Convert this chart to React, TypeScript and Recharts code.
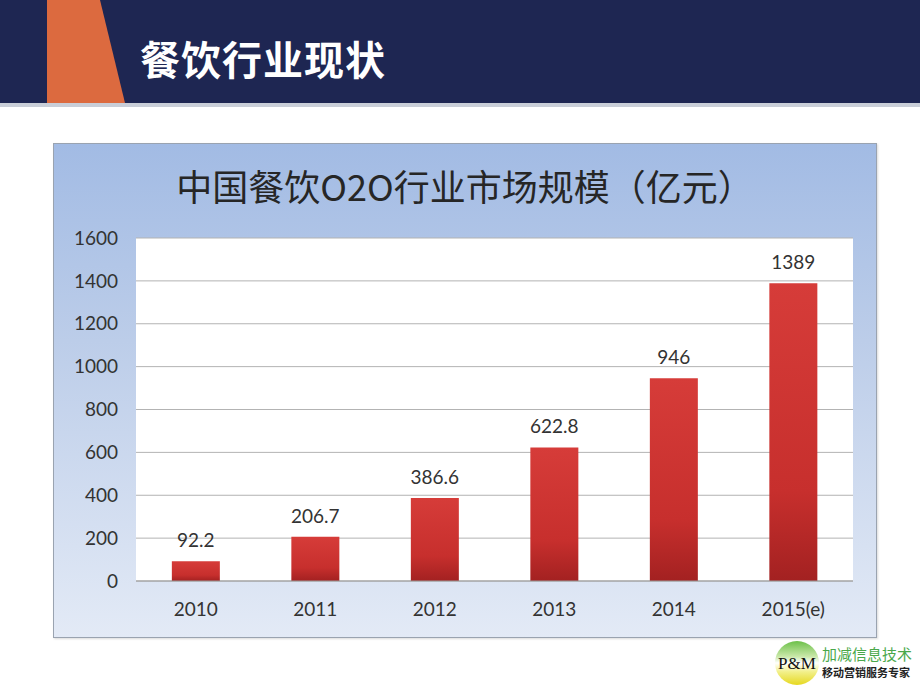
import { BarChart, Bar, XAxis, YAxis, CartesianGrid, LabelList } from 'recharts'

const years = ['2010', '2011', '2012', '2013', '2014', '2015(e)']
const marketSize = [92.2, 206.7, 386.6, 622.8, 946, 1389]
const yTicks = [0, 200, 400, 600, 800, 1000, 1200, 1400, 1600]

const data = years.map((year, i) => ({ year, value: marketSize[i] }))

const numFont = 'Lato, "Open Sans", sans-serif'
const cjkFont = '"Noto Sans CJK SC", "Noto Sans", sans-serif'

function Header() {
  return (
    <>
      <div style={{ position: 'absolute', left: 0, top: 0, width: 920, height: 103, background: '#1e2652' }} />
      <svg style={{ position: 'absolute', left: 0, top: 0 }} width={920} height={108}>
        <polygon points="47,0 100,0 125,103 47,103" fill="#dc6a3f" />
        <rect x={0} y={103} width={920} height={4} fill="#c9ced8" />
      </svg>
      <div
        style={{
          position: 'absolute',
          left: 140,
          top: 32,
          color: '#fff',
          fontFamily: cjkFont,
          fontWeight: 700,
          fontSize: 40,
          lineHeight: '52px',
          letterSpacing: 1,
        }}
      >
        餐饮行业现状
      </div>
    </>
  )
}

function Logo() {
  return (
    <div style={{ position: 'absolute', left: 774, top: 638 }}>
      <svg width={48} height={50} style={{ position: 'absolute', left: 0, top: 0 }}>
        <defs>
          <linearGradient id="logoG" x1="0" y1="0" x2="0" y2="1">
            <stop offset="0" stopColor="#6cc04a" />
            <stop offset="0.35" stopColor="#c9e8a8" />
            <stop offset="0.5" stopColor="#ffffff" />
            <stop offset="0.7" stopColor="#f2f08a" />
            <stop offset="1" stopColor="#e6d820" />
          </linearGradient>
        </defs>
        <circle cx={23} cy={25} r={22} fill="url(#logoG)" />
        <text x={23} y={31} textAnchor="middle" fontFamily='"Liberation Serif", serif' fontSize={17} fill="#111">
          P&amp;M
        </text>
      </svg>
      <div style={{ position: 'absolute', left: 48, top: 7, whiteSpace: 'nowrap', fontFamily: cjkFont, fontSize: 15, color: '#4aa84a', lineHeight: '18px' }}>
        加减信息技术
      </div>
      <div style={{ position: 'absolute', left: 48, top: 27, whiteSpace: 'nowrap', fontFamily: cjkFont, fontSize: 11, fontWeight: 700, color: '#222', lineHeight: '14px' }}>
        移动营销服务专家
      </div>
    </div>
  )
}

export default function App() {
  return (
    <div style={{ position: 'fixed', left: 0, top: 0, width: 920, height: 690, background: '#ffffff', overflow: 'hidden' }}>
      <Header />
      <div
        style={{
          position: 'absolute',
          left: 53,
          top: 143,
          width: 822,
          height: 493,
          border: '1px solid #9aa3b0',
          background: 'linear-gradient(180deg, #a2bbe4 0%, #bccde9 40%, #e3eaf6 100%)',
          boxShadow: '1px 1px 2px rgba(0,0,0,0.15)',
        }}
      >
        <div
          style={{
            position: 'absolute',
            left: 0,
            top: 19,
            width: 822,
            textAlign: 'center',
            fontFamily: cjkFont,
            fontSize: 36,
            color: '#262626',
            lineHeight: '44px',
          }}
        >
          中国餐饮O2O行业市场规模（亿元）
        </div>
        <div style={{ position: 'absolute', left: 0, top: 0 }}>
          <BarChart
            width={822}
            height={493}
            data={data}
            margin={{ top: 94, right: 23, left: 0, bottom: 26 }}
            barCategoryGap="30%"
          >
            <defs>
              <linearGradient id="barG" x1="0" y1="0" x2="0" y2="1">
                <stop offset="0" stopColor="#d63c39" />
                <stop offset="0.7" stopColor="#c72f2d" />
                <stop offset="1" stopColor="#a32121" />
              </linearGradient>
            </defs>
            <CartesianGrid vertical={false} stroke="#b3b3b3" fill="#ffffff" fillOpacity={1} />
            <XAxis
              dataKey="year"
              height={30}
              axisLine={{ stroke: '#9a9a9a' }}
              tickLine={false}
              tickSize={0}
              tickMargin={22}
              tick={{ fill: '#333', fontSize: 19, fontFamily: numFont }}
            />
            <YAxis
              domain={[0, 1600]}
              ticks={yTicks}
              width={82}
              axisLine={false}
              tickLine={false}
              tickSize={0}
              tickMargin={18}
              tick={{ fill: '#333', fontSize: 19, fontFamily: numFont }}
            />
            <Bar dataKey="value" fill="url(#barG)" isAnimationActive={false}>
              <LabelList dataKey="value" position="top" offset={14} fill="#333" fontSize={19} fontFamily={numFont} />
            </Bar>
          </BarChart>
        </div>
      </div>
      <Logo />
    </div>
  )
}
